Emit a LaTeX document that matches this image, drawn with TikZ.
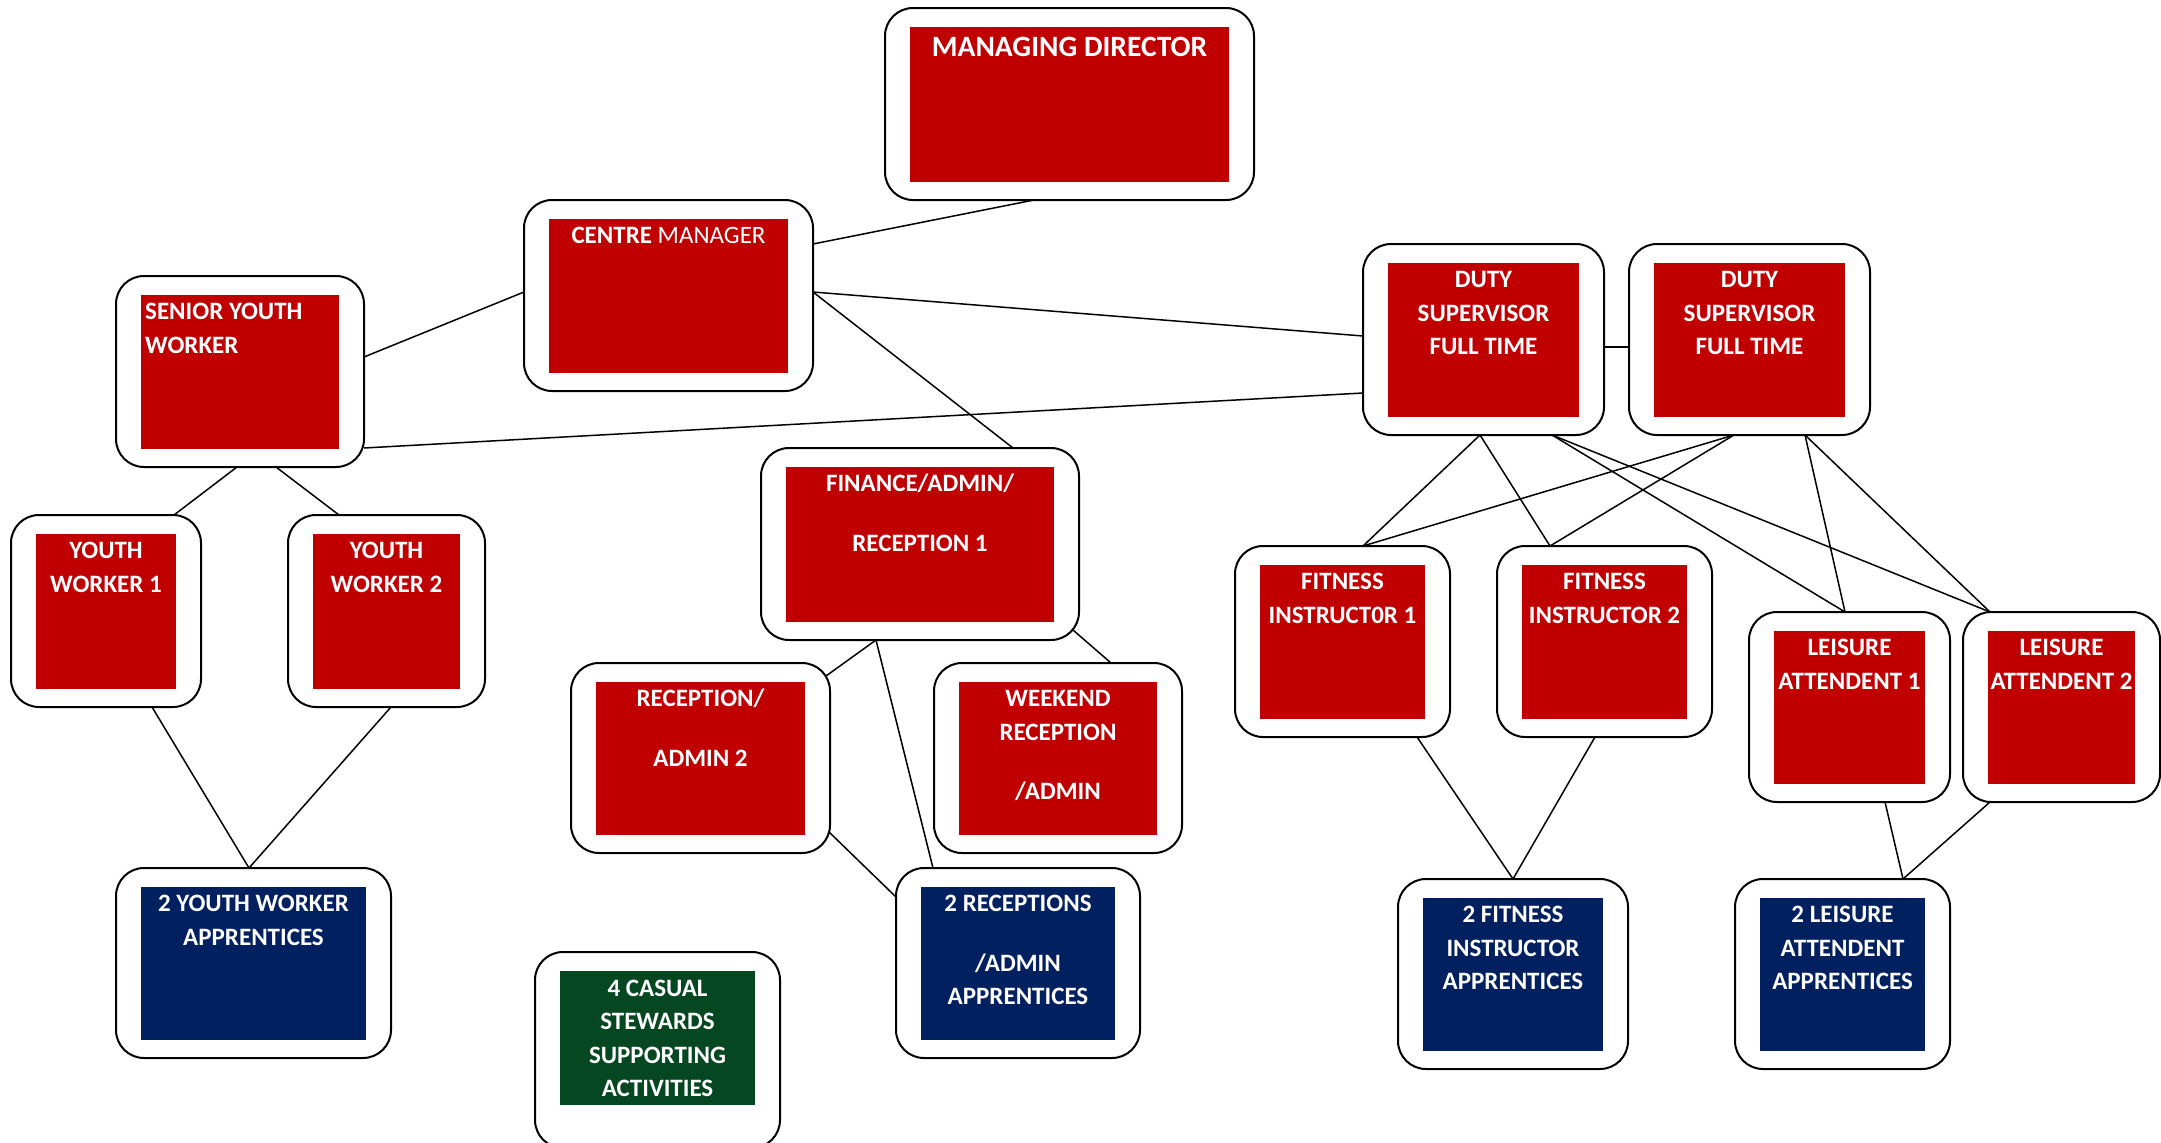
\documentclass[tikz,border=0pt]{standalone}
\usepackage{fontspec}
\setmainfont{Carlito}
\usetikzlibrary{calc}
\definecolor{boxred}{RGB}{192,0,0}
\definecolor{boxblue}{RGB}{0,32,96}
\definecolor{boxgreen}{RGB}{4,71,33}
\tikzset{
  outerbox/.style={draw=black, line width=2pt, rounded corners=28pt, fill=white, inner sep=0pt, outer sep=0pt},
  innerbox/.style={draw=none, inner sep=0pt, outer sep=0pt},
  boxtext/.style={text=white, font=\fontsize{25}{33.5}\selectfont\bfseries, align=center, inner sep=0pt},
  link/.style={line width=1.5pt, draw=black},
}
\newcommand\orgbox[7]{%
  \node[outerbox, minimum width={(#4)-(#2)}, minimum height={(#5)-(#3)}] (#1) at ({((#2)+(#4))/2},{((#3)+(#5))/2}) {};
  \node[innerbox, fill=#6, minimum width={(#4)-(#2)-50}, minimum height={(#5)-(#3)-37}] (#1-in) at (#1.center) {};
  \node[boxtext, anchor=north] (#1-t) at ($(#1-in.north)+(0,5)$) {\rule{0pt}{20pt}#7};
}
\begin{document}
\begin{tikzpicture}[x=1pt, y=-1pt]
\useasboundingbox (0,0) rectangle (2161,1143);
% top
\node[outerbox, minimum width=369, minimum height=192] (md) at (1069.5,104) {};
\node[innerbox, fill=boxred, minimum width=319, minimum height=155] (md-in) at (md.center) {};
\node[boxtext, font=\fontsize{29.5}{34}\selectfont\bfseries, anchor=north] (md-t) at ($(md-in.north)+(0,6)$) {\rule{0pt}{24pt}MANAGING DIRECTOR};
\orgbox{cm}{524}{200}{813}{391}{boxred}{CENTRE {\mdseries MANAGER}}
% senior youth worker (left aligned text)
\node[outerbox, minimum width=248, minimum height=191] (syw) at (240,371.5) {};
\node[innerbox, fill=boxred, minimum width=198, minimum height=154] (syw-in) at (syw.center) {};
\node[boxtext, align=left, anchor=north west] (syw-t) at ($(syw-in.north west)+(4,5)$) {\rule{0pt}{20pt}SENIOR YOUTH\\WORKER};
\orgbox{yw1}{11}{515}{201}{707}{boxred}{YOUTH\\WORKER 1}
\orgbox{yw2}{288}{515}{485}{707}{boxred}{YOUTH\\WORKER 2}
\orgbox{ywa}{116}{868}{391}{1058}{boxblue}{2 YOUTH WORKER\\APPRENTICES}
% finance / reception
\orgbox{far}{761}{448}{1079}{640}{boxred}{FINANCE/ADMIN/\\[26pt]RECEPTION 1}
\orgbox{ra2}{571}{663}{830}{853}{boxred}{RECEPTION/\\[26pt]ADMIN 2}
\orgbox{wk}{934}{663}{1182}{853}{boxred}{WEEKEND\\RECEPTION\\[26pt]/ADMIN}
\orgbox{rap}{896}{868}{1140}{1058}{boxblue}{2 RECEPTIONS\\[26pt]/ADMIN\\APPRENTICES}
% casual stewards (cut by the lower edge)
\node[outerbox, minimum width=245, minimum height=196] (cas) at (657.5,1050) {};
\node[innerbox, fill=boxgreen, minimum width=195, minimum height=134, anchor=north] (cas-in) at (657.5,971) {};
\node[boxtext, anchor=north] (cas-t) at ($(cas-in.north)+(0,5)$) {\rule{0pt}{20pt}4 CASUAL\\STEWARDS\\SUPPORTING\\ACTIVITIES};
% duty supervisors
\orgbox{ds1}{1363}{244}{1604}{435}{boxred}{DUTY\\SUPERVISOR\\FULL TIME}
\orgbox{ds2}{1629}{244}{1870}{435}{boxred}{DUTY\\SUPERVISOR\\FULL TIME}
\orgbox{fi1}{1235}{546}{1450}{737}{boxred}{FITNESS\\INSTRUCT0R 1}
\orgbox{fi2}{1497}{546}{1712}{737}{boxred}{FITNESS\\INSTRUCTOR 2}
\orgbox{la1}{1749}{612}{1950}{802}{boxred}{LEISURE\\ATTENDENT 1}
\orgbox{la2}{1963}{612}{2160}{802}{boxred}{LEISURE\\ATTENDENT 2}
\orgbox{fia}{1398}{879}{1628}{1069}{boxblue}{2 FITNESS\\INSTRUCTOR\\APPRENTICES}
\orgbox{laa}{1735}{879}{1950}{1069}{boxblue}{2 LEISURE\\ATTENDENT\\APPRENTICES}
% connectors
\draw[link] ($(md.south)+(-35.5,0)$) -- ($(cm.east)+(0,-51.5)$);
\draw[link] ($(cm.west)+(0,-3.5)$) -- ($(syw.east)+(0,-14.5)$);
\draw[link] ($(cm.east)+(0,-3.5)$) -- ($(ds1.west)+(0,-3.5)$);
\draw[link] ($(cm.east)+(0,-3.5)$) -- ($(far.north)+(93,0)$);
\draw[link] ($(syw.east)+(0,76.5)$) -- ($(ds1.west)+(0,53.5)$);
\draw[link] ($(ds1.east)+(0,7.5)$) -- ($(ds2.west)+(0,7.5)$);
\draw[link] ($(syw.south)+(-3,0)$) -- ($(yw1.north)+(68,0)$);
\draw[link] ($(syw.south)+(36,0)$) -- ($(yw2.north)+(-47.5,0)$);
\draw[link] ($(yw1.south)+(46,0)$) -- ($(ywa.north)+(-4.5,0)$);
\draw[link] ($(yw2.south)+(4.5,0)$) -- ($(ywa.north)+(-4.5,0)$);
\draw[link] ($(far.south)+(-44,0)$) -- ($(ra2.north east)+(-4,13)$);
\draw[link] ($(far.south)+(-44,0)$) -- ($(rap.north)+(-85,0)$);
\draw[link] ($(far.south east)+(-6,-10)$) -- ($(wk.north)+(53,0)$);
\draw[link] ($(ra2.south east)+(-1,-21)$) -- ($(rap.north west)+(0,29)$);
\draw[link] ($(ds1.south)+(-3.5,0)$) -- ($(fi1.north)+(20.5,0)$);
\draw[link] ($(ds1.south)+(-3.5,0)$) -- ($(fi2.north)+(-54.5,0)$);
\draw[link] ($(ds1.south)+(68.5,0)$) -- ($(la1.north)+(-4.5,0)$);
\draw[link] ($(ds1.south)+(68.5,0)$) -- ($(la2.north)+(-71.5,0)$);
\draw[link] ($(ds2.south)+(-15.5,0)$) -- ($(fi1.north)+(20.5,0)$);
\draw[link] ($(ds2.south)+(-15.5,0)$) -- ($(fi2.north)+(-54.5,0)$);
\draw[link] ($(ds2.south)+(55.5,0)$) -- ($(la1.north)+(-4.5,0)$);
\draw[link] ($(ds2.south)+(55.5,0)$) -- ($(la2.north)+(-71.5,0)$);
\draw[link] ($(fi1.south)+(74.5,0)$) -- (fia.north);
\draw[link] ($(fi2.south)+(-9.5,0)$) -- (fia.north);
\draw[link] ($(la1.south)+(35.5,0)$) -- ($(laa.north)+(60.5,0)$);
\draw[link] ($(la2.south)+(-71.5,0)$) -- ($(laa.north)+(60.5,0)$);
\end{tikzpicture}
\end{document}
